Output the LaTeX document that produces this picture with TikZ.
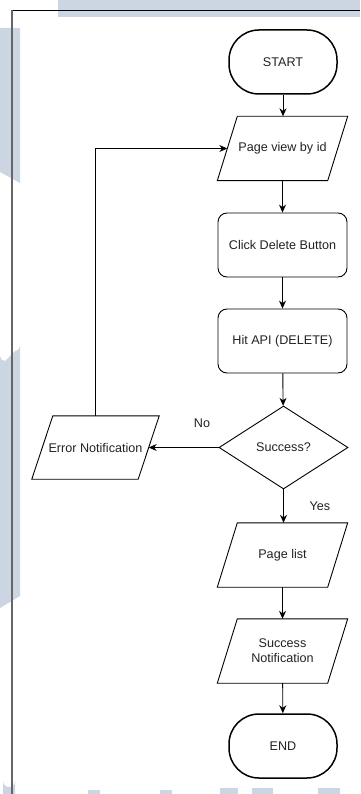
\documentclass[tikz,border=0pt]{standalone}
\usepackage{fontspec}
\setmainfont{Liberation Sans}
\usetikzlibrary{shapes.geometric,arrows.meta,calc}
\definecolor{wm}{HTML}{CBD6E2}
\definecolor{txt}{HTML}{222222}
\newcommand{\paraframe}[2]{%
  \draw[line width=0.9pt, line join=miter]
    ($(#1.north west)+(#2,0)$) -- ($(#1.north east)+(#2,0)$) --
    ($(#1.south east)+(-#2,0)$) -- ($(#1.south west)+(-#2,0)$) -- cycle;}
\begin{document}
\begin{tikzpicture}[x=1pt,y=-1pt,
  every node/.style={font=\fontsize{12.6}{15}\selectfont, text=txt},
  base/.style={draw=black, line width=0.9pt, inner sep=2pt},
  term/.style={base, line width=1.5pt, rectangle, rounded corners=30pt, minimum width=108pt, minimum height=64pt},
  proc/.style={base, rectangle, rounded corners=9pt, minimum width=129pt, minimum height=64pt},
  io/.style={rectangle, inner sep=2pt, minimum width=110pt, minimum height=64pt, align=center},
  dec/.style={base, diamond, aspect=1.55, minimum width=129pt, minimum height=83pt, inner sep=0pt},
  arr/.style={draw=black, line width=0.9pt, -{Stealth[length=8pt,width=7pt]}},
  lbl/.style={inner sep=0pt}
]
\useasboundingbox (0,0) rectangle (360,794);
% watermark background patches
\fill[wm] (58,0) rectangle (360,17);
\fill[wm] (0,28) -- (20,28) -- (20,183) -- (0,172) -- cycle;
\fill[wm] (0,356) arc[start angle=180,end angle=90,radius=5] -- (15,351) arc[start angle=90,end angle=0,radius=5] -- (20,596) -- (0,608) -- cycle;
\fill[wm] (3,794) -- (3,781) arc[start angle=180,end angle=0,radius=6] -- (15,794) -- cycle;
\fill[wm] (88,790) rectangle (100,794);
\fill[wm] (160,790) rectangle (172,794);
\fill[wm] (220,788) rectangle (238,794);
\fill[wm] (252,788) rectangle (273,794);
\fill[wm] (318,788) rectangle (340,794);
% frame
\draw[black, line width=0.8pt] (12,10) -- (360,10);
\draw[black!60, line width=1.5pt] (12,10) -- (12,794);
% nodes
\node[term] (start) at (283,62) {START};
\node[io] (pv) at (282.5,148.5) {Page view by id};
\node[proc] (click) at (282.5,245) {Click Delete Button};
\node[proc] (api) at (282.5,341) {Hit API (DELETE)};
\node[dec] (dec) at (283.5,447.5) {Success?};
\node[io, minimum width=106pt, minimum height=63pt] (err) at (95.5,447.5) {Error Notification};
\node[io] (pl) at (282.5,555) {Page list};
\node[io] (sn) at (282.5,651) {Success\\Notification};
\node[term] (end) at (283,746) {END};
\paraframe{pv}{10}
\paraframe{err}{10.5}
\paraframe{pl}{10}
\paraframe{sn}{10}
% labels
\node[lbl] (no) at (202,423) {No};
\node[lbl] (yes) at (320,506) {Yes};
% connectors
\draw[arr] (start) -- (pv.north -| start.south);
\draw[arr] (pv.south -| click.north) -- (click);
\draw[arr] (click) -- (api);
\draw[arr] (api) -- (dec);
\draw[arr] (dec) -- (err);
\draw[arr] (err.north) |- (pv.west);
\draw[arr] (dec) -- (pl.north -| dec.south);
\draw[arr] (pl) -- (sn);
\draw[arr] (sn) -- (end);
\end{tikzpicture}
\end{document}
